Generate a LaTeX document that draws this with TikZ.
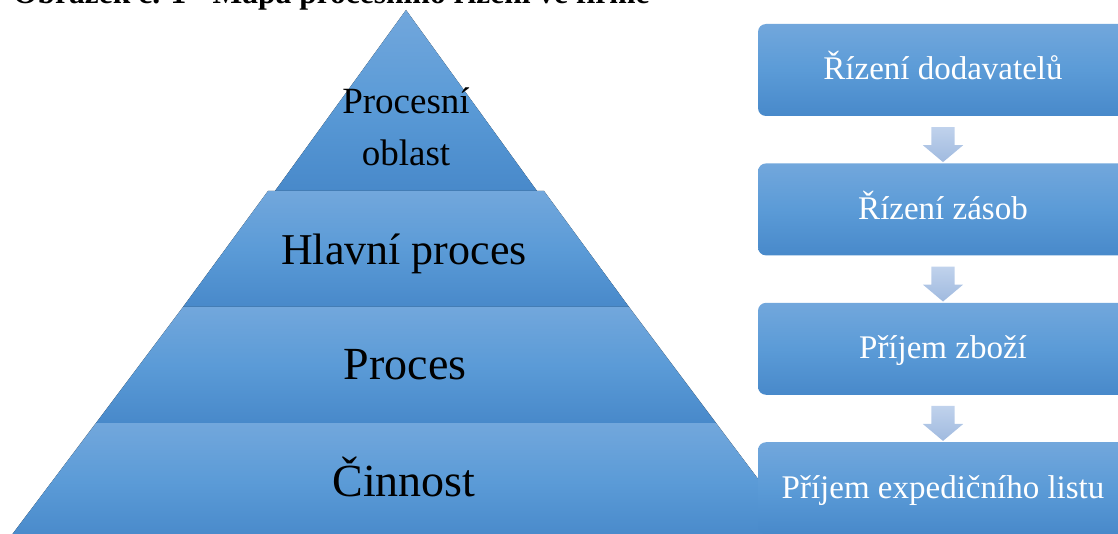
\documentclass[tikz,border=0pt]{standalone}
\usepackage{fontspec}
\setmainfont{Liberation Serif}
\usetikzlibrary{shapes.arrows,calc,positioning}
\definecolor{LayerTop}{RGB}{114,167,220}
\definecolor{LayerMid}{RGB}{91,155,215}
\definecolor{LayerBot}{RGB}{72,137,202}
\definecolor{ArrowTop}{RGB}{192,210,236}
\definecolor{ArrowBot}{RGB}{160,186,223}

\begin{document}
\begin{tikzpicture}[x=1pt,y=-1pt,
    layer/.style={top color=LayerTop,bottom color=LayerBot,middle color=LayerMid},
    stepbox/.style={layer,rounded corners=8pt,minimum width=370pt,minimum height=92pt,
      inner sep=0pt,text=white,text height=20pt,text depth=0pt,font=\fontsize{33}{40}\selectfont},
    downarrow/.style={single arrow,shape border rotate=270,top color=ArrowTop,bottom color=ArrowBot,
      minimum width=40pt,minimum height=35pt,single arrow head extend=8.5pt,single arrow tip angle=100,inner sep=11.5pt},
    level/.style={anchor=base,inner sep=0pt,text=black}]
  \useasboundingbox (0,0) rectangle (1118,534);
  \clip (0,0) rectangle (1118,534);
  \node[anchor=base west,inner sep=0pt,font=\bfseries\fontsize{31.5}{38}\selectfont] (title) at (13,4)
    {Obrázek č. 1 - Mapa procesního řízení ve firmě};
  % pyramida
  \fill[layer] (406,10) -- (537,191) -- (275,191) -- cycle;
  \fill[layer] (268,191) -- (544,191) -- (629,307) -- (183,307) -- cycle;
  \fill[layer] (183,307) -- (629,307) -- (716,423) -- (96,423) -- cycle;
  \fill[layer] (96,423) -- (716,423) -- (804,540) -- (8,540) -- cycle;
  \node[inner sep=0pt,align=center,font=\fontsize{37}{52}\selectfont] (oblast) at (406,126.5) {Procesní\\oblast};
  \node[level,font=\fontsize{44}{50}\selectfont] (hlavni) at (404,265) {Hlavní proces};
  \node[level,font=\fontsize{46}{52}\selectfont] (proces) at (405,379) {Proces};
  \node[level,font=\fontsize{46}{52}\selectfont] (cinnost) at (404,496) {Činnost};
  % kroky
  \node[stepbox] (dodavatele) at (943,70) {Řízení dodavatelů};
  \node[stepbox,below=47pt of dodavatele] (zasoby) {Řízení zásob};
  \node[stepbox,below=47pt of zasoby] (zbozi) {Příjem zboží};
  \node[stepbox,below=47pt of zbozi] (list) {Příjem expedičního listu};
  \node[downarrow] (a1) at ($(dodavatele.south)!0.5!(zasoby.north)$) {};
  \node[downarrow] (a2) at ($(zasoby.south)!0.5!(zbozi.north)$) {};
  \node[downarrow] (a3) at ($(zbozi.south)!0.5!(list.north)$) {};
\end{tikzpicture}
\end{document}
